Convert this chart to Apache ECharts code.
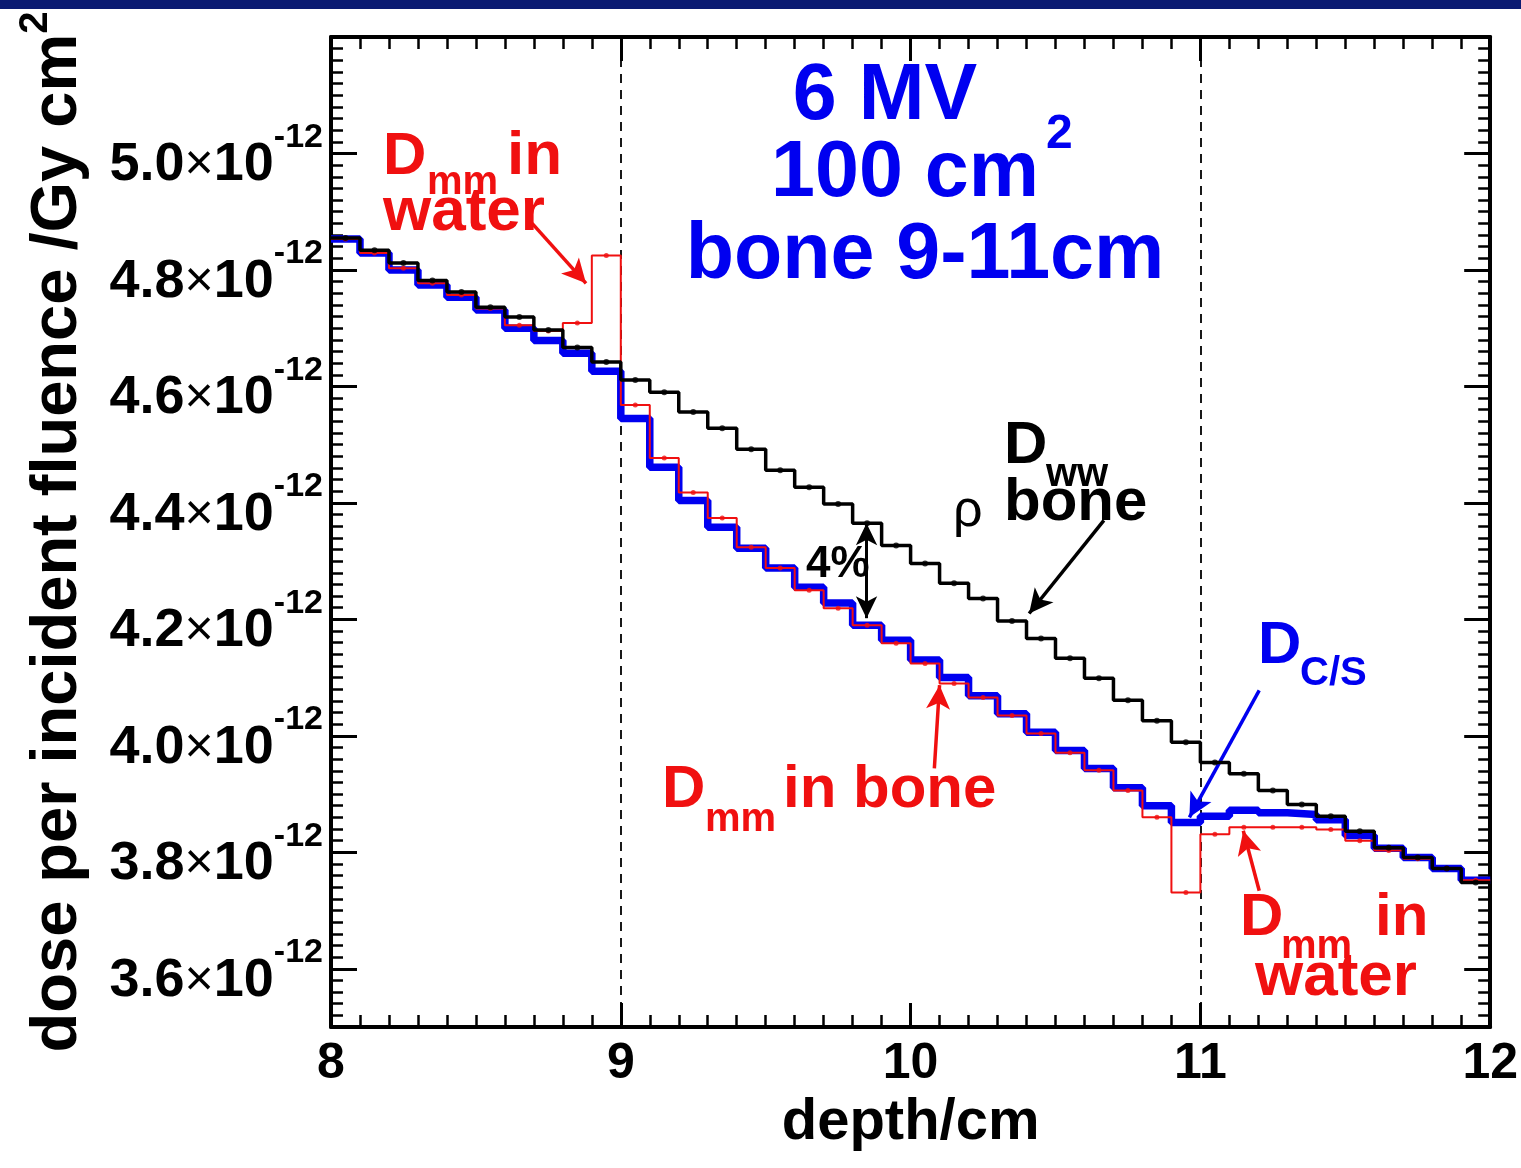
<!DOCTYPE html>
<html><head><meta charset="utf-8">
<script src="https://cdn.jsdelivr.net/npm/echarts@6/dist/echarts.min.js"></script>
<style>html,body{margin:0;padding:0;background:#fff}#c{width:1521px;height:1168px}</style>
</head><body><div id="c"></div><script>
// depth bins (left edges, cm); last bin closes at xEnd
const binLeft = [8.0,8.1,8.2,8.3,8.4,8.5,8.6,8.7,8.8,8.9,9.0,9.1,9.2,9.3,9.4,9.5,9.6,9.7,9.8,9.9,10.0,10.1,10.2,10.3,10.4,10.5,10.6,10.7,10.8,10.9,11.0,11.1,11.2,11.3,11.4,11.5,11.6,11.7,11.8,11.9];
const xEnd = 12.0;
// dose per incident fluence, units of 1e-12 Gy cm^2
const doseWwRhoBone = [4.855,4.834,4.812,4.782,4.762,4.736,4.719,4.697,4.667,4.642,4.611,4.590,4.556,4.528,4.492,4.456,4.427,4.398,4.365,4.327,4.296,4.262,4.236,4.197,4.167,4.133,4.099,4.061,4.026,3.989,3.954,3.935,3.906,3.882,3.862,3.836,3.808,3.791,3.772,3.748];
const doseCS = [4.853,4.829,4.800,4.774,4.753,4.731,4.700,4.679,4.657,4.626,4.545,4.461,4.404,4.358,4.322,4.288,4.255,4.228,4.190,4.164,4.130,4.100,4.069,4.038,4.006,3.975,3.944,3.911,3.880,3.851,3.862,3.872,3.868,3.865,3.856,3.829,3.807,3.791,3.772,3.752];
const doseMm = [4.853,4.829,4.803,4.777,4.757,4.734,4.705,4.695,4.709,4.825,4.568,4.477,4.418,4.374,4.324,4.288,4.250,4.219,4.190,4.159,4.124,4.090,4.066,4.035,4.004,3.971,3.941,3.906,3.860,3.731,3.831,3.843,3.843,3.843,3.839,3.820,3.803,3.789,3.772,3.752];
const xTickValues = [8, 9, 10, 11, 12];
const yTickValues = [3.6, 3.8, 4.0, 4.2, 4.4, 4.6, 4.8, 5.0];
const boneEdges = [9, 11];

const FONT = "'Liberation Sans', Arial, Helvetica, sans-serif";
function stepData(v){ return binLeft.map((x,i)=>[x, v[i]]).concat([[xEnd, v[v.length-1]]]); }
function centers(v){ return binLeft.map((x,i)=>[+(x+0.05).toFixed(3), v[i]]); }

const chart = echarts.init(document.getElementById('c'), null, {renderer:'canvas'});

const axLine = {show:true, lineStyle:{color:'#000', width:4}};
function xAx(pos, labels){
  return {type:'value', position:pos, min:8, max:12, interval:1,
    axisLine:axLine, splitLine:{show:false},
    axisTick:{show:true, inside:true, length:24, lineStyle:{color:'#000', width:3}},
    minorTick:{show:true, splitNumber:10, length:12, lineStyle:{color:'#000', width:2.5}},
    axisLabel:{show:labels, fontFamily:FONT, fontSize:50, fontWeight:'bold', color:'#000', margin:12,
      formatter:v=>xTickValues.includes(v)?String(v):''},
    name: labels ? 'depth/cm' : '', nameLocation:'middle', nameGap:62,
    nameTextStyle:{fontFamily:FONT, fontSize:58, fontWeight:'bold', color:'#000'}};
}
function yMinor(pos){
  return {type:'value', position:pos, min:3.5, max:5.2, interval:0.1,
    axisLine:axLine, splitLine:{show:false},
    axisTick:{show:true, inside:true, length:12, lineStyle:{color:'#000', width:2.5}},
    minorTick:{show:true, splitNumber:5, length:12, lineStyle:{color:'#000', width:2.5}},
    axisLabel:{show:false}};
}
function yMajor(pos, labels){
  return {type:'value', position:pos, inverse:true, min:-5.2, max:-3.5, interval:0.2,
    axisLine:{show:false}, splitLine:{show:false},
    axisTick:{show:true, inside:true, length:26, lineStyle:{color:'#000', width:3}},
    minorTick:{show:false},
    axisLabel:{show:labels, margin:8, formatter:v=>{
        const t = Math.round(-v*10)/10;
        return yTickValues.some(y=>Math.abs(y-t)<1e-6) ? '{a|'+t.toFixed(1)+'}{x|×}{a|10}{s|-12}' : '';
      },
      rich:{
        a:{fontFamily:FONT, fontSize:54, fontWeight:'bold', color:'#000', lineHeight:54, padding:[24,0,0,0]},
        x:{fontFamily:FONT, fontSize:50, fontWeight:'normal', color:'#000', lineHeight:54, padding:[24,0,0,0]},
        s:{fontFamily:FONT, fontSize:34, fontWeight:'bold', color:'#000', lineHeight:34, padding:[0,0,32,0]}
      }},
    name: labels ? 'dose per incident fluence /Gy cm{s|2}' : '', nameLocation:'middle', nameRotate:90, nameGap:231,
    nameTextStyle:{fontFamily:FONT, fontSize:65, fontWeight:'bold', color:'#000',
      rich:{s:{fontFamily:FONT, fontSize:40, fontWeight:'bold', color:'#000', padding:[0,0,44,0]}}}};
}

const redC = '#f01010', blueC = '#0000f0';

const option = {
  backgroundColor:'#ffffff',
  animation:false,
  grid:{left:331, top:37, width:1164, height:990, containLabel:false},
  xAxis:[xAx('bottom', true), xAx('top', false)],
  yAxis:[yMinor('left'), yMajor('left', true), yMinor('right'), yMajor('right', false)],
  series:[
    {name:'D_C/S', type:'line', step:'end', data:stepData(doseCS), showSymbol:false, z:3,
      lineStyle:{color:blueC, width:7.5}, itemStyle:{color:blueC},
      markLine:{silent:true, symbol:['none','arrow'], symbolSize:[18,24], label:{show:false},
        lineStyle:{color:blueC, width:3.5, type:'solid'},
        data:[[{coord:[11.203, 4.078]},{coord:[10.962, 3.860]}]]}},
    {name:'D_mm', type:'line', step:'end', data:stepData(doseMm), showSymbol:false, z:4,
      lineStyle:{color:redC, width:2}, itemStyle:{color:redC},
      markLine:{silent:true, symbol:['none','arrow'], symbolSize:[18,24], label:{show:false},
        lineStyle:{color:redC, width:3.5, type:'solid'},
        data:[
          [{coord:[8.694, 4.880]},{coord:[8.880, 4.777]}],
          [{coord:[10.082, 3.944]},{coord:[10.100, 4.087]}],
          [{coord:[11.203, 3.734]},{coord:[11.148, 3.837]}]
        ]}},
    {name:'D_mm markers', type:'scatter', data:centers(doseMm), symbol:'circle', symbolSize:5, z:5,
      itemStyle:{color:redC}},
    {name:'D_ww rho_bone', type:'line', step:'end', data:stepData(doseWwRhoBone), showSymbol:false, z:6,
      lineStyle:{color:'#000', width:3.5}, itemStyle:{color:'#000'},
      markLine:{silent:true, symbol:['none','none'], label:{show:false}, z:1,
        lineStyle:{color:'#000', width:1.8, type:[9,7]},
        data: boneEdges.map(x=>({xAxis:x}))}},
    {name:'D_ww arrows', type:'line', data:[], showSymbol:false, z:6,
      markLine:{silent:true, symbol:['none','arrow'], symbolSize:[18,24], label:{show:false},
        lineStyle:{color:'#000', width:3.5, type:'solid'},
        data:[
          [{coord:[10.667, 4.370]},{coord:[10.409, 4.210]}]
        ]}},
    {name:'4% arrow', type:'line', data:[], showSymbol:false, z:6,
      markLine:{silent:true, symbol:['arrow','arrow'], symbolSize:[16,22], label:{show:false},
        lineStyle:{color:'#000', width:3, type:'solid'},
        data:[
          [{coord:[9.848, 4.365]},{coord:[9.848, 4.202]}]
        ]}},
    {name:'D_ww markers', type:'scatter', data:centers(doseWwRhoBone), symbol:'circle', symbolSize:6, z:7,
      itemStyle:{color:'#000'}}
  ],
  graphic:[
    {type:'rect', left:0, top:0, shape:{width:1521, height:9}, style:{fill:'#0b1b72'}, z:100},
    ...[
      ['6 MV', 885, 97, 79, 'bold', blueC, 'center'],
      ['100 cm', 905, 174, 79, 'bold', blueC, 'center'],
      ['2', 1046, 135, 48, 'bold', blueC, 'left'],
      ['bone 9-11cm', 925, 256, 79, 'bold', blueC, 'center'],
      ['D', 383, 157, 60, 'bold', redC, 'left'],
      ['mm', 427, 183, 40, 'bold', redC, 'left'],
      ['in', 507, 157, 62, 'bold', redC, 'left'],
      ['water', 383, 213, 62, 'bold', redC, 'left'],
      ['4%', 806, 565, 44, 'bold', '#000', 'left'],
      ['D', 1004, 446, 60, 'bold', '#000', 'left'],
      ['ww', 1046, 475, 40, 'bold', '#000', 'left'],
      ['ρ', 953, 512, 52, 'normal', '#000', 'left'],
      ['bone', 1004, 503, 60, 'bold', '#000', 'left'],
      ['D', 1258, 646, 60, 'bold', blueC, 'left'],
      ['C/S', 1300, 674, 40, 'bold', blueC, 'left'],
      ['D', 662, 790, 60, 'bold', redC, 'left'],
      ['mm', 705, 820, 40, 'bold', redC, 'left'],
      ['in bone', 783, 790, 60, 'bold', redC, 'left'],
      ['D', 1240, 918, 60, 'bold', redC, 'left'],
      ['mm', 1281, 947, 40, 'bold', redC, 'left'],
      ['in', 1375, 918, 60, 'bold', redC, 'left'],
      ['water', 1255, 978, 62, 'bold', redC, 'left']
    ].map(([t,x,y,fs,fw,col,al])=>({type:'text', x:x, y:y, z:50,
      style:{text:t, fill:col, font:fw+' '+fs+'px '+FONT, textAlign:al, textVerticalAlign:'middle'}}))
  ]
};
chart.setOption(option);
</script></body></html>
